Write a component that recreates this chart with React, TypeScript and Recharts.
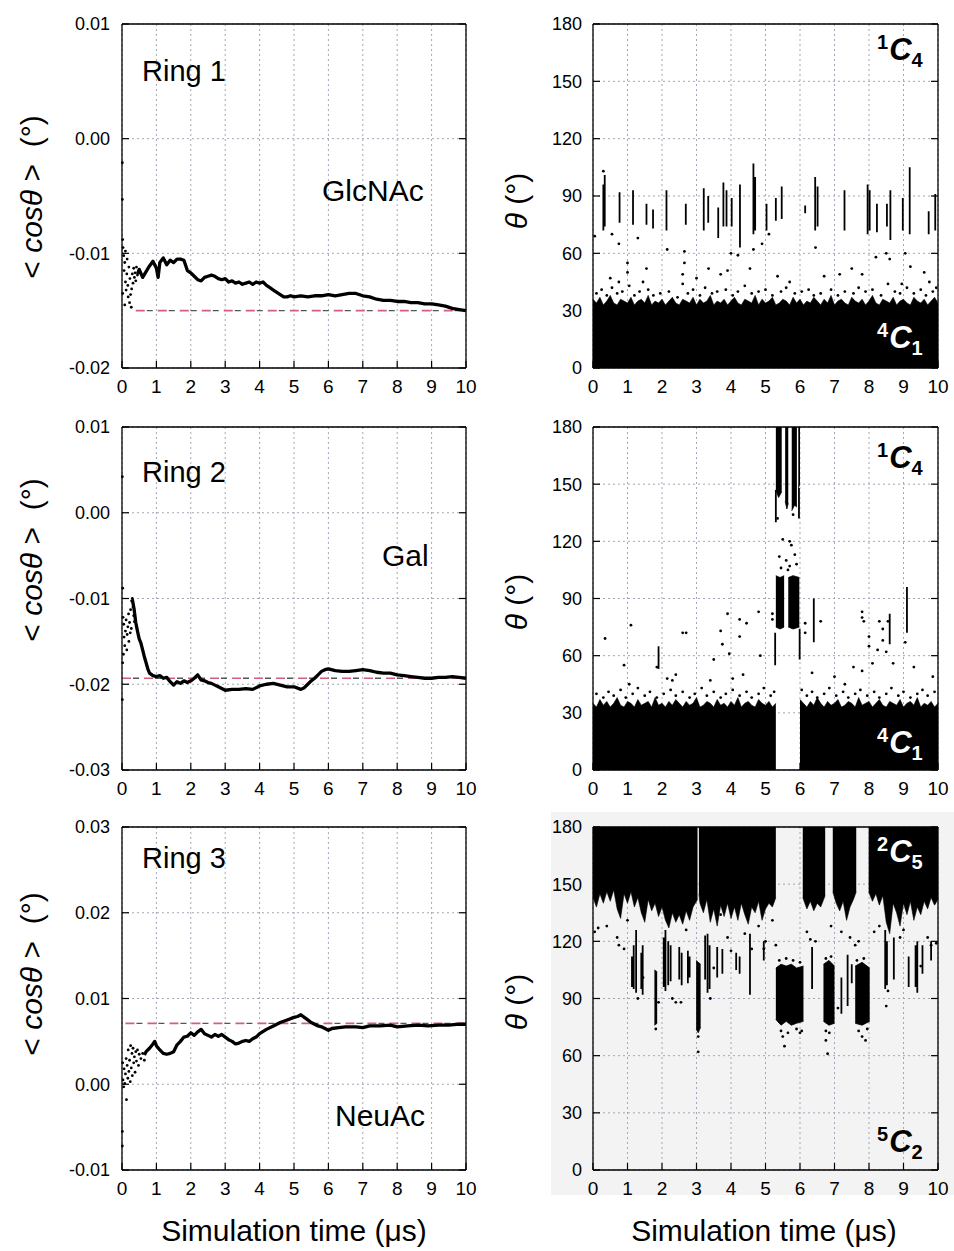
import React from 'react';
import { ComposedChart, Line, Area, Scatter, XAxis, YAxis, CartesianGrid } from 'recharts';

const FONT = '"Liberation Sans", Arial, Helvetica, sans-serif';
const GRID = '#a3a6b8';

const TIME_TICKS = [0, 1, 2, 3, 4, 5, 6, 7, 8, 9, 10];
const ANGLE_TICKS = [0, 30, 60, 90, 120, 150, 180];
const COS_TICKS_1 = [-0.02, -0.01, 0, 0.01];
const COS_TICKS_2 = [-0.03, -0.02, -0.01, 0, 0.01];
const COS_TICKS_3 = [-0.01, 0, 0.01, 0.02, 0.03];
const GRID_T = Array.from({ length: 101 }, (_, i) => i / 10);

// ---------- Ring 1 (GlcNAc) running average ----------
const RING1_LINE: [number, number][] = [
  [0.45, -0.0118], [0.5, -0.0114], [0.6, -0.0121], [0.7, -0.0116], [0.8, -0.0111], [0.9, -0.0107],
  [1.0, -0.0113], [1.05, -0.0121], [1.1, -0.0108], [1.2, -0.0104], [1.3, -0.011], [1.4, -0.0106],
  [1.5, -0.0108], [1.6, -0.0105], [1.7, -0.0105], [1.8, -0.0106], [1.9, -0.0115], [2.0, -0.0117],
  [2.1, -0.012], [2.2, -0.0123], [2.3, -0.0124], [2.4, -0.0121], [2.5, -0.012], [2.6, -0.0119],
  [2.7, -0.012], [2.8, -0.0122], [2.9, -0.0123], [3.0, -0.0122], [3.1, -0.0125], [3.2, -0.0124],
  [3.3, -0.0126], [3.4, -0.0125], [3.5, -0.0127], [3.6, -0.0126], [3.7, -0.0125], [3.8, -0.0127],
  [3.9, -0.0125], [4.0, -0.0126], [4.1, -0.0125], [4.2, -0.0128], [4.3, -0.013], [4.4, -0.0132],
  [4.5, -0.0134], [4.6, -0.0136], [4.7, -0.0138], [4.8, -0.0138], [4.9, -0.0137], [5.0, -0.0138],
  [5.2, -0.0137], [5.4, -0.0138], [5.6, -0.0137], [5.8, -0.0137], [6.0, -0.0136], [6.2, -0.0137],
  [6.4, -0.0136], [6.6, -0.0135], [6.8, -0.0135], [7.0, -0.0137], [7.2, -0.0138], [7.4, -0.014],
  [7.6, -0.0141], [7.8, -0.0141], [8.0, -0.0142], [8.2, -0.0142], [8.4, -0.0143], [8.6, -0.0143],
  [8.8, -0.0144], [9.0, -0.0144], [9.2, -0.0145], [9.4, -0.0146], [9.6, -0.0148], [9.8, -0.0149],
  [10, -0.015],
];
const RING1_DOTS: [number, number][] = [
  [0.02, -0.0088], [0.03, -0.0095], [0.05, -0.0102], [0.06, -0.0115], [0.08, -0.0108], [0.1, -0.0125],
  [0.1, -0.0098], [0.12, -0.0132], [0.14, -0.0118], [0.15, -0.0105], [0.17, -0.0128], [0.18, -0.0138],
  [0.2, -0.0112], [0.22, -0.0143], [0.23, -0.0122], [0.25, -0.0136], [0.27, -0.0147], [0.28, -0.0131],
  [0.3, -0.0118], [0.32, -0.0126], [0.34, -0.0113], [0.36, -0.0121], [0.38, -0.0117], [0.4, -0.0124],
  [0.42, -0.0112], [0.45, -0.0119], [0.01, -0.0021], [0.01, -0.0053], [0.02, -0.0135], [0.08, -0.0145],
];
const RING1_REF: [number, number][] = [[0.4, -0.015], [10, -0.015]];

// ---------- Ring 2 (Gal) running average ----------
const RING2_LINE: [number, number][] = [
  [0.3, -0.0101], [0.35, -0.0112], [0.4, -0.0128], [0.45, -0.0138], [0.5, -0.0147], [0.55, -0.0152],
  [0.6, -0.016], [0.65, -0.0168], [0.7, -0.0175], [0.75, -0.0182], [0.8, -0.0187], [0.9, -0.019],
  [1.0, -0.0191], [1.1, -0.019], [1.2, -0.0193], [1.3, -0.0192], [1.4, -0.0197], [1.5, -0.0201],
  [1.6, -0.0197], [1.7, -0.0199], [1.8, -0.0196], [1.9, -0.0198], [2.0, -0.0196], [2.1, -0.0193],
  [2.2, -0.0189], [2.3, -0.0195], [2.4, -0.0196], [2.5, -0.0198], [2.6, -0.0199], [2.7, -0.0201],
  [2.8, -0.0203], [2.9, -0.0205], [3.0, -0.0207], [3.2, -0.0206], [3.4, -0.0206], [3.6, -0.0205],
  [3.8, -0.0206], [4.0, -0.0202], [4.2, -0.02], [4.4, -0.0199], [4.6, -0.0201], [4.8, -0.0203],
  [5.0, -0.0203], [5.2, -0.0206], [5.3, -0.0204], [5.4, -0.02], [5.5, -0.0196], [5.6, -0.0193],
  [5.7, -0.0189], [5.8, -0.0185], [5.9, -0.0183], [6.0, -0.0182], [6.2, -0.0184], [6.4, -0.0185],
  [6.6, -0.0185], [6.8, -0.0184], [7.0, -0.0183], [7.2, -0.0184], [7.4, -0.0186], [7.6, -0.0187],
  [7.8, -0.0187], [8.0, -0.0189], [8.2, -0.019], [8.4, -0.0191], [8.6, -0.0192], [8.8, -0.0193],
  [9.0, -0.0193], [9.2, -0.0192], [9.4, -0.0192], [9.6, -0.0191], [9.8, -0.0192], [10, -0.0193],
];
const RING2_DOTS: [number, number][] = [
  [0.02, -0.0088], [0.03, -0.0122], [0.05, -0.013], [0.06, -0.0145], [0.08, -0.0155], [0.1, -0.0138],
  [0.12, -0.0125], [0.14, -0.016], [0.15, -0.0142], [0.17, -0.0133], [0.19, -0.0118], [0.2, -0.015],
  [0.22, -0.0128], [0.24, -0.014], [0.25, -0.0113], [0.27, -0.0135], [0.28, -0.0103], [0.3, -0.01],
  [0.32, -0.011], [0.34, -0.012], [0.36, -0.0127], [0.01, 0.0042], [0.01, -0.0218], [0.02, -0.0175],
  [0.04, -0.0165],
];
const RING2_REF: [number, number][] = [[0, -0.0193], [10, -0.0193]];

// ---------- Ring 3 (NeuAc) running average ----------
const RING3_LINE: [number, number][] = [
  [0.65, 0.0034], [0.7, 0.0038], [0.8, 0.0042], [0.9, 0.0047], [0.95, 0.005], [1.0, 0.0045],
  [1.1, 0.004], [1.2, 0.0036], [1.3, 0.0035], [1.4, 0.0036], [1.5, 0.0038], [1.6, 0.0046],
  [1.7, 0.005], [1.8, 0.0055], [1.9, 0.0056], [2.0, 0.006], [2.1, 0.0057], [2.2, 0.0061],
  [2.3, 0.0064], [2.4, 0.0059], [2.5, 0.0057], [2.6, 0.0055], [2.7, 0.0058], [2.8, 0.0056],
  [2.9, 0.0058], [3.0, 0.0055], [3.1, 0.0052], [3.2, 0.005], [3.3, 0.0047], [3.4, 0.0048],
  [3.5, 0.005], [3.6, 0.0051], [3.7, 0.005], [3.8, 0.0053], [3.9, 0.0055], [4.0, 0.0059],
  [4.2, 0.0064], [4.4, 0.0068], [4.6, 0.0072], [4.8, 0.0075], [5.0, 0.0078], [5.1, 0.0079],
  [5.2, 0.0081], [5.3, 0.0078], [5.4, 0.0075], [5.5, 0.0072], [5.6, 0.007], [5.7, 0.0068],
  [5.8, 0.0067], [5.9, 0.0065], [6.0, 0.0063], [6.1, 0.0065], [6.3, 0.0066], [6.5, 0.0067],
  [6.8, 0.0067], [7.0, 0.0066], [7.2, 0.0068], [7.5, 0.0068], [7.8, 0.0069], [8.0, 0.0067],
  [8.3, 0.0068], [8.6, 0.0069], [8.9, 0.0068], [9.2, 0.0069], [9.5, 0.0069], [9.8, 0.007],
  [10, 0.007],
];
const RING3_DOTS: [number, number][] = [
  [0.01, -0.0055], [0.01, -0.0072], [0.02, 0.0025], [0.03, 0.0005], [0.05, -0.0003], [0.06, 0.0018],
  [0.08, 0.0001], [0.1, 0.0012], [0.12, 0.003], [0.13, -0.0018], [0.15, 0.0022], [0.17, 0.0007],
  [0.18, 0.004], [0.2, 0.0015], [0.22, 0.0028], [0.24, 0.0003], [0.25, 0.0045], [0.27, 0.0019],
  [0.29, 0.0036], [0.3, 0.001], [0.32, 0.0042], [0.34, 0.0025], [0.36, 0.0032], [0.38, 0.0014],
  [0.4, 0.0038], [0.42, 0.0027], [0.45, 0.004], [0.48, 0.0022], [0.5, 0.0035], [0.55, 0.003],
  [0.6, 0.0036], [0.65, 0.0028],
];
const RING3_REF: [number, number][] = [[0.1, 0.0071], [10, 0.0071]];

// ---------- Ring 1 theta trajectory ----------
const R1_BAND_TOP: (number | null)[] = [
  36, 34, 37, 33, 35, 38, 34, 33, 36, 35, 34, 37, 33, 35, 36, 34, 38, 33, 35, 34,
  36, 33, 35, 37, 34, 33, 36, 35, 34, 37, 33, 36, 34, 35, 38, 33, 35, 34, 36, 33,
  35, 37, 34, 33, 36, 35, 34, 38, 33, 36, 34, 35, 37, 33, 34, 36, 35, 33, 37, 34,
  36, 33, 35, 34, 37, 35, 33, 36, 34, 38, 33, 35, 36, 34, 33, 37, 35, 34, 36, 33,
  35, 38, 34, 33, 36, 35, 34, 37, 33, 35, 36, 34, 33, 37, 35, 34, 36, 33, 35, 37, 34,
];
const R1_SEGS: [number, number, number][] = [
  [0.3, 72, 96], [0.34, 74, 101], [0.77, 76, 92], [1.16, 75, 93], [1.55, 75, 86], [1.74, 73, 83],
  [2.13, 72, 93], [2.69, 75, 86], [3.21, 72, 94], [3.34, 76, 90], [3.63, 68, 84], [3.78, 74, 97],
  [3.87, 74, 93], [4.02, 74, 89], [4.26, 63, 96], [4.65, 70, 107], [4.7, 72, 100], [5.03, 72, 86],
  [5.3, 77, 89], [5.47, 78, 95], [6.15, 81, 85], [6.44, 72, 100], [6.51, 74, 95], [7.29, 72, 93],
  [7.96, 70, 96], [8.02, 72, 93], [8.23, 71, 86], [8.52, 74, 86], [8.62, 67, 93], [8.98, 72, 89],
  [9.18, 70, 105], [9.73, 70, 82], [9.92, 72, 91],
];
const R1_DOTS: [number, number][] = [
  [0.05, 69], [0.55, 70], [1.3, 68], [2.15, 62], [2.65, 61], [2.65, 55], [3.35, 52], [4.0, 60],
  [4.2, 59], [4.55, 52], [4.65, 62], [4.9, 65], [5.1, 70], [5.35, 48], [6.45, 63], [7.8, 49],
  [8.2, 58], [8.5, 60], [8.6, 57], [8.95, 44], [9.05, 60], [9.2, 53], [1.0, 55], [1.0, 50],
  [0.75, 65], [2.6, 49], [3.0, 47], [1.45, 45], [0.5, 47], [0.75, 45], [1.55, 52], [7.5, 52],
  [7.15, 49], [6.7, 48], [9.6, 50], [9.75, 45], [5.7, 45], [3.7, 49], [3.9, 51], [0.3, 103],
  [0.1, 39], [0.25, 41], [0.4, 38], [0.55, 42], [0.7, 39], [0.85, 40], [1.05, 43], [1.2, 38],
  [1.35, 40], [1.6, 41], [1.75, 38], [1.95, 39], [2.2, 40], [2.45, 37], [2.6, 44], [2.75, 39],
  [2.9, 41], [3.1, 38], [3.25, 42], [3.45, 39], [3.6, 40], [3.85, 41], [4.05, 38], [4.2, 40],
  [4.4, 43], [4.6, 39], [4.8, 40], [5.0, 41], [5.2, 38], [5.45, 40], [5.6, 42], [5.85, 39],
  [6.05, 40], [6.25, 41], [6.4, 38], [6.6, 39], [6.9, 41], [7.1, 38], [7.3, 40], [7.55, 39],
  [7.7, 42], [7.9, 40], [8.1, 41], [8.35, 38], [8.55, 44], [8.75, 40], [8.9, 39], [9.1, 42],
  [9.3, 39], [9.5, 41], [9.65, 38], [9.85, 40], [9.95, 42],
];

// ---------- Ring 2 theta trajectory ----------
const R2_BAND_TOP: (number | null)[] = [
  35, 33, 37, 34, 36, 33, 35, 38, 34, 33, 36, 35, 33, 37, 34, 35, 36, 33, 38, 34,
  35, 33, 36, 34, 37, 35, 33, 36, 34, 35, 38, 33, 34, 36, 35, 33, 37, 34, 35, 33,
  36, 34, 38, 33, 35, 36, 34, 33, 37, 35, 34, 36, 33, 35, null, null, null, null, null, null,
  37, 35, 33, 36, 34, 38, 35, 33, 36, 34, 35, 37, 33, 34, 36, 35, 33, 38, 34, 35,
  36, 33, 35, 37, 34, 33, 36, 35, 34, 37, 33, 35, 36, 34, 38, 33, 35, 34, 36, 33, 35,
];
const R2_BLOCKS: [number, number | null, number | null][] = [
  [5.3, 75, 102], [5.42, 74, 101], [5.54, 75, 102], [5.55, null, null],
  [5.66, 75, 101], [5.8, 74, 102], [5.98, 75, 101], [5.99, null, null],
  [5.3, 147, 180], [5.38, 143, 180], [5.47, 146, 180], [5.48, null, null],
  [5.57, 141, 180], [5.62, 137, 180], [5.66, 140, 180], [5.67, null, null],
  [5.76, 136, 180], [5.84, 139, 180], [5.91, 138, 180], [5.92, null, null],
  [5.95, 148, 180], [6.0, 150, 180],
];
const R2_SEGS: [number, number, number][] = [
  [9.1, 72, 96], [6.4, 67, 90], [8.6, 66, 82], [1.9, 53, 65], [5.28, 55, 72], [5.99, 58, 74],
  [5.3, 130, 147], [5.97, 132, 148],
];
const R2_DOTS: [number, number][] = [
  [0.35, 69], [1.1, 76], [0.9, 55], [1.05, 45], [1.85, 54], [2.6, 72], [2.7, 72], [2.4, 50],
  [3.5, 58], [3.7, 73], [3.75, 66], [3.9, 82], [3.95, 61], [4.25, 79], [4.25, 70], [4.45, 77],
  [4.35, 50], [4.85, 60], [4.8, 83], [5.2, 82], [5.2, 79], [6.15, 72], [6.35, 51], [6.15, 77],
  [7.55, 54], [7.8, 80], [7.8, 83], [7.85, 78], [8.0, 70], [8.0, 65], [8.1, 56], [8.3, 78],
  [8.4, 74], [8.4, 68], [8.5, 62], [8.55, 78], [8.7, 56], [9.05, 67], [9.3, 54],
  [9.85, 49], [7.8, 52], [7.0, 49], [7.3, 45], [8.25, 63], [4.05, 48], [2.15, 48], [2.3, 47],
  [3.4, 47], [6.6, 78], [5.7, 120], [5.7, 107], [5.6, 110], [5.5, 121], [5.85, 113],
  [5.4, 112], [5.9, 108], [5.35, 132], [5.8, 134], [5.65, 105], [5.45, 106], [5.75, 118],
  [0.1, 40], [0.3, 38], [0.45, 41], [0.6, 39], [0.8, 42], [0.95, 38], [1.15, 40], [1.3, 43],
  [1.5, 39], [1.65, 41], [1.85, 38], [2.05, 40], [2.25, 42], [2.4, 39], [2.6, 41], [2.8, 38],
  [2.95, 40], [3.15, 43], [3.3, 39], [3.5, 41], [3.7, 38], [3.85, 40], [4.05, 42], [4.25, 39],
  [4.45, 41], [4.6, 38], [4.8, 40], [4.95, 43], [5.15, 39], [5.25, 41], [6.05, 42], [6.2, 39],
  [6.35, 41], [6.5, 38], [6.7, 40], [6.85, 43], [7.05, 39], [7.25, 41], [7.4, 38], [7.6, 40],
  [7.75, 42], [7.95, 39], [8.15, 41], [8.3, 38], [8.5, 40], [8.65, 43], [8.85, 39], [9.0, 41],
  [9.2, 38], [9.4, 40], [9.55, 42], [9.7, 39], [9.9, 41],
];

// ---------- Ring 3 theta trajectory ----------
const R3_TOP_BAND: [number, number | null][] = [
  [0, 143], [0.1, 138], [0.2, 145], [0.3, 140], [0.4, 146], [0.5, 141], [0.6, 147], [0.7, 137],
  [0.8, 132], [0.9, 145], [1.0, 140], [1.1, 146], [1.2, 138], [1.3, 143], [1.4, 135], [1.5, 130],
  [1.6, 142], [1.7, 136], [1.8, 140], [1.9, 133], [2.0, 138], [2.1, 131], [2.2, 127], [2.3, 135],
  [2.4, 130], [2.5, 134], [2.6, 129], [2.7, 136], [2.8, 131], [2.9, 138], [3.03, 142], [3.04, null],
  [3.07, 145], [3.1, 140], [3.2, 135], [3.3, 142], [3.4, 130], [3.5, 137], [3.6, 128], [3.7, 139],
  [3.8, 133], [3.9, 140], [4.0, 132], [4.1, 138], [4.2, 131], [4.3, 140], [4.4, 134], [4.5, 129],
  [4.6, 138], [4.7, 135], [4.8, 141], [4.9, 131], [5.0, 137], [5.1, 140], [5.2, 138], [5.3, 143],
  [5.31, null],
  [6.08, 143], [6.2, 137], [6.3, 141], [6.4, 136], [6.5, 140], [6.6, 138], [6.73, 144], [6.74, null],
  [6.95, 146], [7.05, 140], [7.15, 136], [7.25, 141], [7.35, 131], [7.45, 138], [7.55, 142],
  [7.63, 146], [7.64, null],
  [7.99, 146], [8.1, 141], [8.2, 145], [8.3, 139], [8.4, 144], [8.5, 130], [8.6, 124], [8.7, 140],
  [8.8, 135], [8.9, 128], [9.0, 140], [9.1, 134], [9.2, 141], [9.3, 131], [9.4, 138], [9.5, 134],
  [9.6, 141], [9.7, 137], [9.8, 143], [9.9, 139], [10, 142],
];
const R3_BLOCKS: [number, number | null, number | null][] = [
  [1.78, 76, 105], [1.86, 77, 104], [1.87, null, null],
  [2.99, 74, 110], [3.05, 72, 109], [3.12, 75, 108], [3.13, null, null],
  [5.3, 79, 106], [5.45, 76, 108], [5.6, 78, 107], [5.75, 76, 108], [5.9, 77, 106], [6.1, 78, 107],
  [6.11, null, null],
  [6.68, 78, 108], [6.84, 76, 110], [7.0, 77, 107], [7.01, null, null],
  [7.6, 77, 107], [7.8, 76, 109], [8.02, 78, 106],
];
const R3_SEGS: [number, number, number][] = [
  [1.13, 96, 112], [1.18, 95, 118], [1.25, 93, 126], [1.4, 95, 114], [1.44, 92, 118],
  [2.05, 96, 122], [2.1, 94, 126], [2.18, 97, 120], [2.25, 99, 118], [2.5, 100, 117],
  [2.57, 97, 114], [2.75, 98, 115], [2.8, 101, 112], [3.25, 100, 123], [3.32, 93, 124],
  [3.38, 95, 118], [3.6, 101, 117], [3.75, 103, 116], [4.15, 105, 114], [4.25, 103, 112],
  [4.55, 92, 124], [4.95, 110, 120], [6.35, 95, 117], [7.2, 82, 101], [7.38, 86, 113],
  [7.5, 98, 108], [8.47, 95, 126], [8.52, 97, 120], [8.72, 100, 122], [9.15, 96, 112],
  [9.35, 96, 118], [9.4, 93, 120], [9.55, 103, 118], [9.8, 110, 120],
];
const R3_DOTS: [number, number][] = [
  [0.05, 125], [0.15, 127], [0.4, 128], [0.7, 122], [0.75, 118], [1.3, 90], [1.45, 101], [1.9, 88],
  [2.4, 88], [2.3, 90], [2.55, 88], [3.05, 62], [3.5, 106], [3.4, 90], [4.6, 116], [4.95, 116],
  [5.0, 120], [5.55, 65], [5.5, 70], [6.0, 72], [6.45, 120], [6.8, 61], [6.75, 68], [6.85, 72],
  [7.1, 85], [7.6, 118], [7.7, 120], [7.8, 70], [7.9, 68], [8.5, 86], [8.55, 94], [9.5, 107],
  [9.7, 122], [9.8, 118], [5.3, 118], [4.0, 115], [3.9, 122], [6.2, 125], [6.3, 121], [6.9, 128],
  [7.2, 125], [7.45, 122], [8.15, 125], [8.3, 128], [8.9, 122], [9.0, 126], [9.95, 119], [0.9, 116],
  [1.0, 131], [2.7, 126], [4.8, 128], [5.2, 131], [3.7, 134], [4.4, 124], [5.4, 110], [5.6, 111],
  [5.8, 110], [6.0, 109], [5.45, 73], [5.65, 72], [5.9, 74], [6.05, 73], [6.75, 111], [6.9, 112],
  [6.75, 73], [7.65, 110], [7.85, 111], [7.7, 73], [7.95, 74], [3.05, 70], [1.82, 74],
];

// ---------- row builders ----------
const pts = (a: [number, number][]) => a.map(([t, v]) => ({ t, v }));
const segRows = (a: [number, number, number][]) =>
  a.flatMap(([t, lo, hi]) => [{ t, v: lo }, { t, v: hi }, { t, v: null }]);
const rangeRows = (a: [number, number | null, number | null][]) =>
  a.map(([t, lo, hi]) => ({ t, r: lo == null || hi == null ? null : [lo, hi] }));
const bandRows = (tops: (number | null)[]) =>
  GRID_T.map((t, i) => ({ t, r: tops[i] == null ? null : [0, tops[i] as number] }));
const topBandRows = (a: [number, number | null][]) =>
  a.map(([t, lo]) => ({ t, r: lo == null ? null : [lo, 180] }));

const ROWS = [
  { top: 0, height: 410, padTop: 24, padBottom: 42 },
  { top: 410, height: 400, padTop: 17, padBottom: 40 },
  { top: 810, height: 400, padTop: 17, padBottom: 40 },
];

const dotShape = (p: any) => <circle cx={p.cx} cy={p.cy} r={1.4} fill="#000" />;
const xTick = { fontSize: 19, fill: '#000', fontFamily: FONT };
const yTick = { fontSize: 18, fill: '#000', fontFamily: FONT };
const axisLine = { stroke: '#000', strokeWidth: 1.3 };
const tickLine = { stroke: '#000', strokeWidth: 1.2 };
const blank = () => '';

function CosPanel({ row, domain, ticks, line, dots, refLine }: any) {
  return (
    <div style={{ position: 'absolute', left: 0, top: row.top, width: 480, height: row.height }}>
      <ComposedChart width={480} height={row.height} margin={{ top: 0, right: 0, bottom: 0, left: 0 }}>
        <CartesianGrid stroke={GRID} strokeDasharray="2 3" />
        <Line data={pts(refLine)} dataKey="v" stroke="#d0607e" strokeWidth={1.6} strokeDasharray="9 13" dot={false} isAnimationActive={false} />
        <Line data={pts(refLine)} dataKey="v" stroke="#555" strokeWidth={1.4} strokeDasharray="0 11 6 5" dot={false} isAnimationActive={false} />
        <Scatter data={pts(dots)} dataKey="v" shape={dotShape} isAnimationActive={false} />
        <Line data={pts(line)} dataKey="v" stroke="#000" strokeWidth={3.3} strokeLinejoin="round" dot={false} isAnimationActive={false} />
        <XAxis dataKey="t" type="number" domain={[0, 10]} ticks={TIME_TICKS} height={row.padBottom}
          tickSize={-7} tickMargin={19} tick={xTick} axisLine={axisLine} tickLine={tickLine} interval={0} />
        <XAxis xAxisId="top" orientation="top" dataKey="t" type="number" domain={[0, 10]} ticks={TIME_TICKS}
          height={row.padTop} tickSize={-7} tickFormatter={blank} axisLine={axisLine} tickLine={tickLine} interval={0} />
        <YAxis type="number" domain={domain} ticks={ticks} width={122} tickSize={-7} tickMargin={19}
          tick={yTick} tickFormatter={(v: number) => v.toFixed(2)} axisLine={axisLine} tickLine={tickLine}
          interval={0} allowDataOverflow />
        <YAxis yAxisId="right" orientation="right" type="number" domain={domain} ticks={ticks} width={14}
          tickSize={-7} tickFormatter={blank} axisLine={axisLine} tickLine={tickLine} interval={0} allowDataOverflow />
      </ComposedChart>
    </div>
  );
}

function AnglePanel({ row, band, blocks, segs, dots }: any) {
  return (
    <div style={{ position: 'absolute', left: 480, top: row.top, width: 474, height: row.height }}>
      <ComposedChart width={474} height={row.height} margin={{ top: 0, right: 0, bottom: 0, left: 0 }}>
        <CartesianGrid stroke={GRID} strokeDasharray="2 3" />
        <Area data={band} dataKey="r" type="linear" stroke="#000" strokeWidth={0.6} fill="#000" fillOpacity={1} isAnimationActive={false} />
        <Area data={blocks} dataKey="r" type="linear" stroke="#000" strokeWidth={0.8} fill="#000" fillOpacity={1} isAnimationActive={false} />
        <Line data={segs} dataKey="v" stroke="#000" strokeWidth={1.8} dot={false} isAnimationActive={false} />
        <Scatter data={dots} dataKey="v" shape={dotShape} isAnimationActive={false} />
        <XAxis dataKey="t" type="number" domain={[0, 10]} ticks={TIME_TICKS} height={row.padBottom}
          tickSize={-7} tickMargin={19} tick={xTick} axisLine={axisLine} tickLine={tickLine} interval={0} />
        <XAxis xAxisId="top" orientation="top" dataKey="t" type="number" domain={[0, 10]} ticks={TIME_TICKS}
          height={row.padTop} tickSize={-7} tickFormatter={blank} axisLine={axisLine} tickLine={tickLine} interval={0} />
        <YAxis type="number" domain={[0, 180]} ticks={ANGLE_TICKS} width={113} tickSize={-7} tickMargin={18}
          tick={yTick} axisLine={axisLine} tickLine={tickLine} interval={0} allowDataOverflow />
        <YAxis yAxisId="right" orientation="right" type="number" domain={[0, 180]} ticks={ANGLE_TICKS} width={16}
          tickSize={-7} tickFormatter={blank} axisLine={axisLine} tickLine={tickLine} interval={0} allowDataOverflow />
      </ComposedChart>
    </div>
  );
}

function Conf({ x, y, sup, sub, fill }: any) {
  return (
    <text x={x} y={y} fill={fill} fontFamily={FONT} fontWeight="bold">
      <tspan fontSize={20} dy={-11}>{sup}</tspan>
      <tspan fontSize={31} fontStyle="italic" dy={11} dx={1}>C</tspan>
      <tspan fontSize={20} dy={7}>{sub}</tspan>
    </text>
  );
}

function CosLabel({ cx, cy }: any) {
  return (
    <text x={cx} y={cy} transform={`rotate(-90 ${cx} ${cy})`} textAnchor="middle" dominantBaseline="central"
      fontSize={30} fontFamily={FONT} fill="#000" style={{ whiteSpace: 'pre' }}>
      {'< '}<tspan fontStyle="italic">cosθ</tspan>{' >  (°)'}
    </text>
  );
}

function ThetaLabel({ cx, cy }: any) {
  return (
    <text x={cx} y={cy} transform={`rotate(-90 ${cx} ${cy})`} textAnchor="middle" dominantBaseline="central"
      fontSize={30} fontFamily={FONT} fill="#000" style={{ whiteSpace: 'pre' }}>
      <tspan fontStyle="italic">θ</tspan>{' (°)'}
    </text>
  );
}

export default function App() {
  return (
    <div style={{ position: 'absolute', left: 0, top: 0, width: 954, height: 1251, background: '#fff', fontFamily: FONT }}>
      <div style={{ position: 'absolute', left: 551, top: 812, width: 403, height: 383, background: '#f3f3f3' }} />
      <CosPanel row={ROWS[0]} domain={[-0.02, 0.01]} ticks={COS_TICKS_1} line={RING1_LINE} dots={RING1_DOTS} refLine={RING1_REF} />
      <CosPanel row={ROWS[1]} domain={[-0.03, 0.01]} ticks={COS_TICKS_2} line={RING2_LINE} dots={RING2_DOTS} refLine={RING2_REF} />
      <CosPanel row={ROWS[2]} domain={[-0.01, 0.03]} ticks={COS_TICKS_3} line={RING3_LINE} dots={RING3_DOTS} refLine={RING3_REF} />
      <AnglePanel row={ROWS[0]} band={bandRows(R1_BAND_TOP)} blocks={[]} segs={segRows(R1_SEGS)} dots={pts(R1_DOTS)} />
      <AnglePanel row={ROWS[1]} band={bandRows(R2_BAND_TOP)} blocks={rangeRows(R2_BLOCKS)} segs={segRows(R2_SEGS)} dots={pts(R2_DOTS)} />
      <AnglePanel row={ROWS[2]} band={topBandRows(R3_TOP_BAND)} blocks={rangeRows(R3_BLOCKS)} segs={segRows(R3_SEGS)} dots={pts(R3_DOTS)} />
      <svg width={954} height={1251} style={{ position: 'absolute', left: 0, top: 0, pointerEvents: 'none' }}>
        <g fontFamily={FONT} fill="#000">
          <text x={142} y={81} fontSize={29}>Ring 1</text>
          <text x={322} y={201} fontSize={30}>GlcNAc</text>
          <text x={142} y={482} fontSize={29}>Ring 2</text>
          <text x={382} y={566} fontSize={30}>Gal</text>
          <text x={142} y={868} fontSize={29}>Ring 3</text>
          <text x={335} y={1126} fontSize={30}>NeuAc</text>
          <text x={294} y={1241} fontSize={30} textAnchor="middle">Simulation time (μs)</text>
          <text x={764} y={1241} fontSize={30} textAnchor="middle">Simulation time (μs)</text>
        </g>
        <CosLabel cx={31} cy={197} />
        <CosLabel cx={31} cy={560} />
        <CosLabel cx={31} cy={974} />
        <ThetaLabel cx={516} cy={201} />
        <ThetaLabel cx={516} cy={602} />
        <ThetaLabel cx={516} cy={1002} />
        <Conf x={877} y={60} sup="1" sub="4" fill="#000" />
        <Conf x={877} y={348} sup="4" sub="1" fill="#fff" />
        <Conf x={877} y={468} sup="1" sub="4" fill="#000" />
        <Conf x={877} y={753} sup="4" sub="1" fill="#fff" />
        <Conf x={877} y={862} sup="2" sub="5" fill="#fff" />
        <Conf x={877} y={1152} sup="5" sub="2" fill="#000" />
      </svg>
    </div>
  );
}
